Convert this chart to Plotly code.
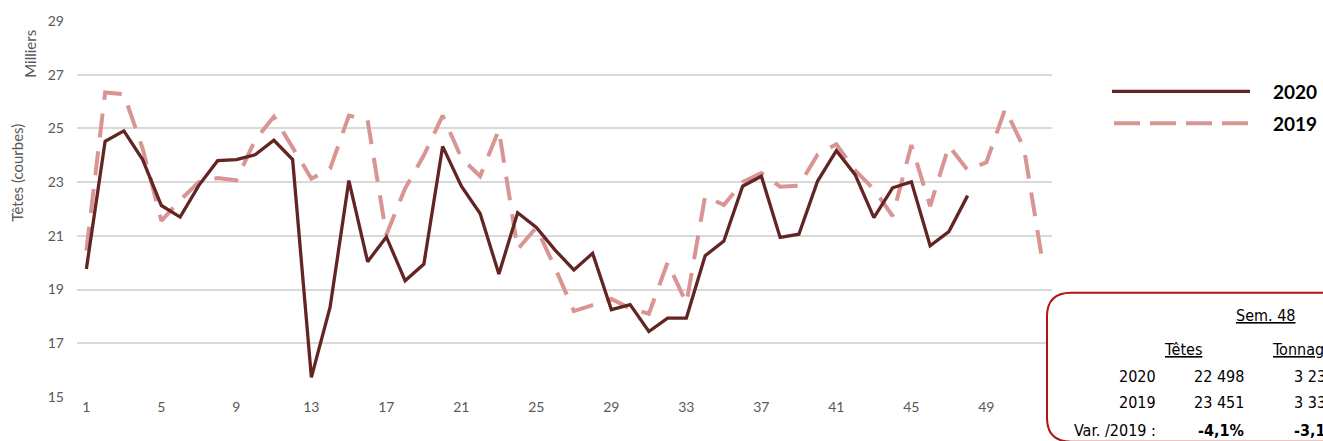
import plotly.graph_objects as go

weeks = list(range(1, 53))
tetes_2020 = [19.77, 24.52, 24.91, 23.84, 22.13, 21.70, 22.88, 23.80, 23.84, 24.02,
              24.56, 23.84, 15.73, 18.35, 23.06, 20.04, 20.96, 19.33, 19.95, 24.33,
              22.85, 21.83, 19.58, 21.86, 21.31, 20.47, 19.73, 20.35, 18.25, 18.44,
              17.44, 17.94, 17.94, 20.26, 20.81, 22.85, 23.22, 20.94, 21.06, 23.04,
              24.17, 23.28, 21.68, 22.79, 23.01, 20.63, 21.16, 22.498]
tetes_2019 = [20.45, 26.34, 26.27, 24.25, 21.56, 22.33, 23.00, 23.15, 23.07, 24.57,
              25.44, 24.30, 23.13, 23.50, 25.48, 25.30, 21.04, 22.77, 24.00, 25.48,
              23.90, 23.22, 24.95, 20.50, 21.31, 19.80, 18.20, 18.42, 18.65, 18.30,
              18.10, 20.01, 18.49, 22.48, 22.15, 23.00, 23.34, 22.83, 22.87, 24.03,
              24.41, 23.44, 22.73, 21.74, 24.38, 22.11, 24.35, 23.451, 23.74, 25.72,
              24.28, 20.01]
tick_weeks = [1, 5, 9, 13, 17, 21, 25, 29, 33, 37, 41, 45, 49]
y_ticks = [15, 17, 19, 21, 23, 25, 27, 29]

table_rows = ["2020", "2019", "Var. /2019 :"]
table_tetes = ["22 498", "23 451", "<b>-4,1%</b>"]
table_tonnage = ["3 234", "3 337", "<b>-3,1%</b>"]

C2020 = "#632523"
C2019 = "#D99594"
GRID = "#D9D9D9"
AX = "#595959"
W, H = 1323, 441
L, R, T, B = 77, 271, 18, 44
PW, PH = W - L - R, H - T - B


def xp(px):
    return (px - L) / PW


def yp(py):
    return (H - B - py) / PH


fig = go.Figure()
fig.add_trace(go.Scatter(x=weeks[:len(tetes_2019)], y=tetes_2019, mode="lines", name="2019",
                         line=dict(color=C2019, width=4, dash="24px,14px"),
                         hoverinfo="x+y"))
fig.add_trace(go.Scatter(x=weeks[:len(tetes_2020)], y=tetes_2020, mode="lines", name="2020",
                         line=dict(color=C2020, width=3.3), hoverinfo="x+y"))

fig.update_layout(
    width=W, height=H,
    margin=dict(l=L, r=R, t=T, b=B),
    paper_bgcolor="white", plot_bgcolor="white",
    showlegend=False,
    font=dict(family="Lato, sans-serif", color=AX, size=13),
    xaxis=dict(range=[0.5, 52.5], tickmode="array", tickvals=tick_weeks,
               ticktext=[str(t) for t in tick_weeks], showgrid=False, zeroline=False,
               showline=False, ticks="", tickfont=dict(size=14, color=AX)),
    yaxis=dict(range=[15, 29], tickmode="array", tickvals=y_ticks,
               ticktext=[str(t) for t in y_ticks], showgrid=True, gridcolor=GRID,
               gridwidth=1.5, zeroline=False, showline=False, ticks="",
               ticklabelstandoff=12, tickfont=dict(size=14, color=AX)),
)

ann = []
ann.append(dict(text="Têtes (courbes)", x=xp(17), y=yp(171), xref="paper", yref="paper",
                textangle=-90, showarrow=False, font=dict(size=15, color=AX),
                xanchor="center", yanchor="middle"))
ann.append(dict(text="Milliers", x=xp(30), y=yp(51), xref="paper", yref="paper",
                textangle=-90, showarrow=False, font=dict(size=15, color=AX),
                xanchor="center", yanchor="middle"))

shapes = []
# legend
shapes.append(dict(type="line", xref="paper", yref="paper", x0=xp(1112), x1=xp(1250),
                   y0=yp(89), y1=yp(89), line=dict(color=C2020, width=3.3)))
shapes.append(dict(type="line", xref="paper", yref="paper", x0=xp(1114), x1=xp(1250),
                   y0=yp(121), y1=yp(121), line=dict(color=C2019, width=4, dash="26px,10px")))
for lab, py in [("2020", 89), ("2019", 121)]:
    ann.append(dict(text="<b>" + lab + "</b>", x=xp(1271), y=yp(py), xref="paper", yref="paper",
                    showarrow=False, xanchor="left", yanchor="middle",
                    font=dict(size=19, color="black", family="Lato, sans-serif")))

# table box
x0, y0, x1, y1, r = 1047, 292, 1400, 442, 24
path = (f"M {xp(x0)},{yp(y0 + r)} Q {xp(x0)},{yp(y0)} {xp(x0 + r)},{yp(y0)} "
        f"L {xp(x1)},{yp(y0)} L {xp(x1)},{yp(y1)} L {xp(x0 + r)},{yp(y1)} "
        f"Q {xp(x0)},{yp(y1)} {xp(x0)},{yp(y1 - r)} Z")
shapes.append(dict(type="path", xref="paper", yref="paper", path=path,
                   line=dict(color="#B01515", width=2), fillcolor="white", layer="above"))

TF = "Liberation Sans Narrow, Arial Narrow, DejaVu Sans Condensed, sans-serif"
ann.append(dict(text="<u>Sem. 48</u>", x=xp(1265), y=yp(315), xref="paper", yref="paper",
                showarrow=False, xanchor="center", yanchor="middle",
                font=dict(size=16, color="black", family=TF)))
ann.append(dict(text="<u>Têtes</u>", x=xp(1183), y=yp(349), xref="paper", yref="paper",
                showarrow=False, xanchor="center", yanchor="middle",
                font=dict(size=16, color="black", family=TF)))
ann.append(dict(text="<u>Tonnage</u>", x=xp(1270), y=yp(349), xref="paper", yref="paper",
                showarrow=False, xanchor="left", yanchor="middle",
                font=dict(size=16, color="black", family=TF)))
for lab, tv, tn, py in zip(table_rows, table_tetes, table_tonnage, [376, 403, 431]):
    ann.append(dict(text=lab, x=xp(1158), y=yp(py), xref="paper", yref="paper",
                    showarrow=False, xanchor="right", yanchor="middle",
                    font=dict(size=16, color="black", family=TF)))
    ann.append(dict(text=tv, x=xp(1246), y=yp(py), xref="paper", yref="paper",
                    showarrow=False, xanchor="right", yanchor="middle",
                    font=dict(size=16, color="black", family=TF)))
    ann.append(dict(text=tn, x=xp(1292), y=yp(py), xref="paper", yref="paper",
                    showarrow=False, xanchor="left", yanchor="middle",
                    font=dict(size=16, color="black", family=TF)))

fig.update_layout(annotations=ann, shapes=shapes)
fig.write_html("out.html", config={"displayModeBar": False},
               post_script="document.body.style.margin='0';document.body.style.overflow='hidden';")
